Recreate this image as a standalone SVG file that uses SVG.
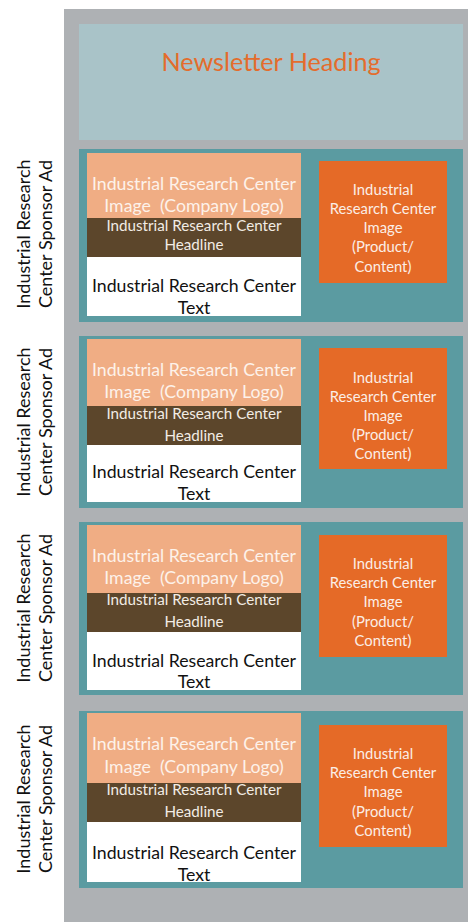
<svg xmlns="http://www.w3.org/2000/svg" width="468" height="922" viewBox="0 0 468 922">
<style>
text{font-family:Lato,"Liberation Sans",sans-serif;text-anchor:middle;white-space:pre}
.bg{fill:#aeb1b4}
.head{fill:#a9c3c8}
.panel{fill:#5b9ba1}
.logo{fill:#f0ad84}
.hl{fill:#5c462b}
.txt{fill:#ffffff}
.img{fill:#e56a27}
.t-head{font-size:25.2px;fill:#e46c2c}
.t-logo{font-size:17.7px;fill:#fdf2ea}
.t-hl{font-size:15.2px;fill:#f2ece4}
.t-txt{font-size:17.7px;fill:#111111}
.t-img{font-size:14.8px;fill:#fbeee6}
.t-side{font-size:18px;fill:#111111}
</style>
<rect class="bg" x="64" y="9" width="404" height="913"/>
<g id="heading">
<rect class="head" x="79" y="24" width="384" height="116"/>
<text class="t-head" x="271" y="71">Newsletter Heading</text>
</g>

<g id="ad1">
<rect class="panel" x="79" y="149" width="384" height="173"/>
<g id="ad1-logo"><rect class="logo" x="87" y="153" width="214" height="65"/>
<text class="t-logo" x="194" y="190">Industrial Research Center</text>
<text class="t-logo" x="194" y="212" xml:space="preserve">Image  (Company Logo)</text></g>
<g id="ad1-headline"><rect class="hl" x="87" y="218" width="214" height="39"/>
<text class="t-hl" x="194" y="231">Industrial Research Center</text>
<text class="t-hl" x="194" y="250">Headline</text></g>
<g id="ad1-text"><rect class="txt" x="87" y="257" width="214" height="59"/>
<text class="t-txt" x="194" y="292">Industrial Research Center</text>
<text class="t-txt" x="194" y="314">Text</text></g>
<g id="ad1-image"><rect class="img" x="319" y="161" width="128" height="122"/>
<text class="t-img" x="383" y="195">Industrial</text>
<text class="t-img" x="383" y="214">Research Center</text>
<text class="t-img" x="383" y="233">Image</text>
<text class="t-img" x="383" y="252">(Product/</text>
<text class="t-img" x="383" y="272">Content)</text></g>
<g id="ad1-label">
<text class="t-side" transform="translate(30,234) rotate(-90)">Industrial Research</text>
<text class="t-side" transform="translate(52,234) rotate(-90)">Center Sponsor Ad</text></g>
</g>

<g id="ad2">
<rect class="panel" x="79" y="336" width="384" height="172"/>
<g id="ad2-logo"><rect class="logo" x="87" y="339" width="214" height="67"/>
<text class="t-logo" x="194" y="376">Industrial Research Center</text>
<text class="t-logo" x="194" y="398" xml:space="preserve">Image  (Company Logo)</text></g>
<g id="ad2-headline"><rect class="hl" x="87" y="406" width="214" height="39"/>
<text class="t-hl" x="194" y="419">Industrial Research Center</text>
<text class="t-hl" x="194" y="441">Headline</text></g>
<g id="ad2-text"><rect class="txt" x="87" y="445" width="214" height="57"/>
<text class="t-txt" x="194" y="478">Industrial Research Center</text>
<text class="t-txt" x="194" y="500">Text</text></g>
<g id="ad2-image"><rect class="img" x="319" y="348" width="128" height="121"/>
<text class="t-img" x="383" y="383">Industrial</text>
<text class="t-img" x="383" y="402">Research Center</text>
<text class="t-img" x="383" y="421">Image</text>
<text class="t-img" x="383" y="440">(Product/</text>
<text class="t-img" x="383" y="459">Content)</text></g>
<g id="ad2-label">
<text class="t-side" transform="translate(30,422) rotate(-90)">Industrial Research</text>
<text class="t-side" transform="translate(52,422) rotate(-90)">Center Sponsor Ad</text></g>
</g>

<g id="ad3">
<rect class="panel" x="79" y="522" width="384" height="173"/>
<g id="ad3-logo"><rect class="logo" x="87" y="525" width="214" height="68"/>
<text class="t-logo" x="194" y="562">Industrial Research Center</text>
<text class="t-logo" x="194" y="584" xml:space="preserve">Image  (Company Logo)</text></g>
<g id="ad3-headline"><rect class="hl" x="87" y="593" width="214" height="39"/>
<text class="t-hl" x="194" y="605">Industrial Research Center</text>
<text class="t-hl" x="194" y="627">Headline</text></g>
<g id="ad3-text"><rect class="txt" x="87" y="632" width="214" height="58"/>
<text class="t-txt" x="194" y="667">Industrial Research Center</text>
<text class="t-txt" x="194" y="688">Text</text></g>
<g id="ad3-image"><rect class="img" x="319" y="535" width="128" height="122"/>
<text class="t-img" x="383" y="569">Industrial</text>
<text class="t-img" x="383" y="588">Research Center</text>
<text class="t-img" x="383" y="607">Image</text>
<text class="t-img" x="383" y="627">(Product/</text>
<text class="t-img" x="383" y="646">Content)</text></g>
<g id="ad3-label">
<text class="t-side" transform="translate(30,608) rotate(-90)">Industrial Research</text>
<text class="t-side" transform="translate(52,608) rotate(-90)">Center Sponsor Ad</text></g>
</g>

<g id="ad4">
<rect class="panel" x="79" y="711" width="384" height="177"/>
<g id="ad4-logo"><rect class="logo" x="87" y="713" width="214" height="70"/>
<text class="t-logo" x="194" y="750">Industrial Research Center</text>
<text class="t-logo" x="194" y="773" xml:space="preserve">Image  (Company Logo)</text></g>
<g id="ad4-headline"><rect class="hl" x="87" y="783" width="214" height="39"/>
<text class="t-hl" x="194" y="795">Industrial Research Center</text>
<text class="t-hl" x="194" y="817">Headline</text></g>
<g id="ad4-text"><rect class="txt" x="87" y="822" width="214" height="60"/>
<text class="t-txt" x="194" y="859">Industrial Research Center</text>
<text class="t-txt" x="194" y="881">Text</text></g>
<g id="ad4-image"><rect class="img" x="319" y="725" width="128" height="122"/>
<text class="t-img" x="383" y="759">Industrial</text>
<text class="t-img" x="383" y="778">Research Center</text>
<text class="t-img" x="383" y="797">Image</text>
<text class="t-img" x="383" y="817">(Product/</text>
<text class="t-img" x="383" y="836">Content)</text></g>
<g id="ad4-label">
<text class="t-side" transform="translate(30,799) rotate(-90)">Industrial Research</text>
<text class="t-side" transform="translate(52,799) rotate(-90)">Center Sponsor Ad</text></g>
</g>
</svg>
